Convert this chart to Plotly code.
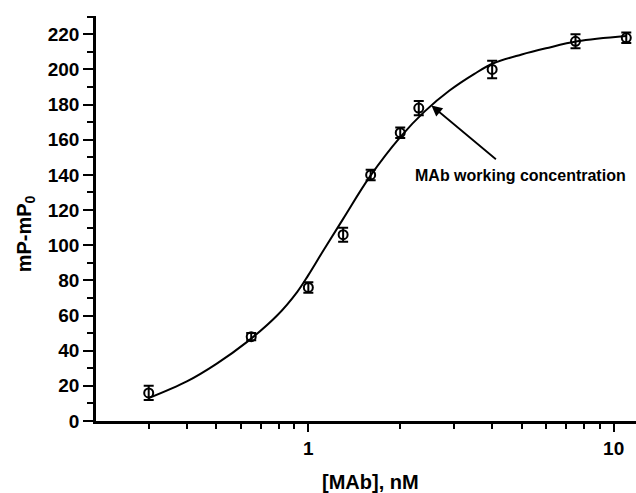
import plotly.graph_objects as go
import math

# Measured data points
conc = [0.30, 0.65, 1.0, 1.3, 1.6, 2.0, 2.3, 4.0, 7.5, 11.0]
signal = [16, 48, 76, 106, 140, 164, 178, 200, 216, 218]
signal_err = [4, 2, 3, 4, 3, 3, 4, 5, 4, 3]

# Fitted curve
fit_x = [0.30, 0.40, 0.50, 0.63, 0.79, 0.92, 1.0, 1.12, 1.30, 1.59, 2.0, 2.4, 2.9, 3.5, 4.04, 5.0, 6.0, 7.6, 11.0]
fit_y = [13, 22.5, 32.5, 45, 60, 73.5, 83, 97, 115, 139, 161.5, 176, 188, 197.5, 203.5, 208.5, 212, 216, 219]

# Axis ticks
x_major = [1, 10]
x_major_text = ["1", "10"]
x_minor = [0.3, 0.4, 0.5, 0.6, 0.7, 0.8, 0.9, 2, 3, 4, 5, 6, 7, 8, 9]
y_major = list(range(0, 221, 20))

FONT = "Liberation Sans, Arial, sans-serif"

fig = go.Figure()
fig.add_trace(go.Scatter(
    x=fit_x, y=fit_y, mode="lines", line=dict(color="black", width=2, shape="spline", smoothing=1.0),
    hoverinfo="skip", showlegend=False))
fig.add_trace(go.Scatter(
    x=conc, y=signal, mode="markers",
    marker=dict(symbol="circle-open", size=9, color="black", line=dict(width=2, color="black")),
    error_y=dict(type="data", array=signal_err, color="black", thickness=2, width=5),
    showlegend=False))

fig.update_layout(
    width=636, height=493,
    margin=dict(l=96, r=0, t=16, b=72),
    paper_bgcolor="white", plot_bgcolor="white",
    font=dict(family=FONT, color="black"),
    xaxis=dict(
        type="log", range=[math.log10(0.2016), math.log10(0.2016) + 540 / 305.3],
        tickmode="array", tickvals=x_major, ticktext=x_major_text,
        ticks="outside", ticklen=8, tickwidth=2.2, tickcolor="black",
        showline=True, linewidth=2.6, linecolor="black", showgrid=False, zeroline=False,
        tickfont=dict(size=19, family=FONT, weight="bold", color="black"),
        minor=dict(tickvals=x_minor, ticks="outside", ticklen=5, tickwidth=2, tickcolor="black", showgrid=False),
    ),
    yaxis=dict(
        range=[0, 230.4], tickmode="array", tickvals=y_major,
        ticks="outside", ticklen=10, tickwidth=2.4, tickcolor="black",
        showline=True, linewidth=2.6, linecolor="black", showgrid=False, zeroline=False,
        tickfont=dict(size=19, family=FONT, weight="bold", color="black"),
        minor=dict(dtick=10, ticks="outside", ticklen=6, tickwidth=2, tickcolor="black", showgrid=False),
    ),
)

# Axis titles
fig.add_annotation(text="[MAb], nM", xref="paper", yref="paper", x=(370 - 96) / 540, y=(420.7 - 482) / 405,
                   showarrow=False, xanchor="center", yanchor="middle",
                   font=dict(size=20, family=FONT, weight="bold", color="black"))
fig.add_annotation(text="mP-mP<sub>0</sub>", xref="paper", yref="paper", x=(25 - 96) / 540, y=(420.7 - 234) / 405,
                   showarrow=False, textangle=-90, xanchor="center", yanchor="middle",
                   font=dict(size=20, family=FONT, weight="bold", color="black"))

# Arrow annotation
fig.add_annotation(x=math.log10(2.53), y=179.5, xref="x", yref="y", text="", showarrow=True,
                   ax=66, ay=55, arrowhead=2, arrowsize=1.2, arrowwidth=1.8, arrowcolor="black", standoff=0)
fig.add_annotation(x=math.log10(4.97), y=139.8, xref="x", yref="y", text="MAb working concentration",
                   showarrow=False, xanchor="center", yanchor="middle",
                   font=dict(size=16, family=FONT, weight="bold", color="black"))

fig.write_html("out.html")
